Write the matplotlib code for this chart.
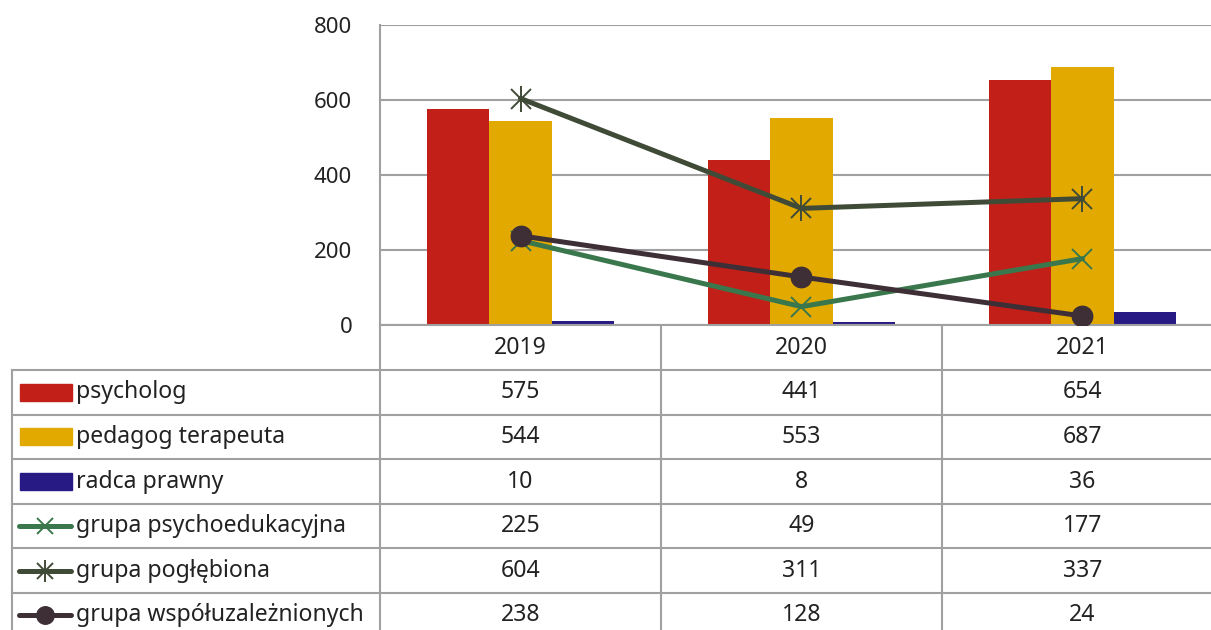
import matplotlib.pyplot as plt
from matplotlib.patches import Rectangle
import numpy as np

plt.rcParams['font.family'] = ['Noto Sans', 'DejaVu Sans']

years = ['2019', '2020', '2021']
psycholog = [575, 441, 654]
pedagog = [544, 553, 687]
radca = [10, 8, 36]
psychoedukacyjna = [225, 49, 177]
poglebiona = [604, 311, 337]
wspoluzaleznionych = [238, 128, 24]

bar_series = [('psycholog', psycholog, '#C21F19'),
              ('pedagog terapeuta', pedagog, '#E2AA00'),
              ('radca prawny', radca, '#271A84')]
line_series = [('grupa psychoedukacyjna', psychoedukacyjna, '#3A774C', 'x'),
               ('grupa pogłębiona', poglebiona, '#404B37', '*'),
               ('grupa współuzależnionych', wspoluzaleznionych, '#3E2F37', 'o')]

W, H = 1211, 630
fig = plt.figure(figsize=(W / 100, H / 100), dpi=100)
grid_c = '#A0A0A0'
txt_c = '#222222'
fs = 16
fs_tab = 16.6


def draw_marker(a, xs, ys, col, mk, ms=14):
    if mk == 'x':
        a.plot(xs, ys, ls='none', marker='x', color=col, ms=ms, mew=1.4, zorder=4)
    elif mk == '*':
        a.plot(xs, ys, ls='none', marker='x', color=col, ms=ms, mew=1.4, zorder=4)
        a.plot(xs, ys, ls='none', marker='|', color=col, ms=ms * 1.35, mew=1.4, zorder=4)
    else:
        a.plot(xs, ys, ls='none', marker='o', color=col, ms=ms * 1.05, zorder=4)


# chart part
ax = fig.add_axes([380 / W, (H - 325) / H, 843 / W, 300 / H])
x = np.arange(len(years))
bw = 0.221
for i, (name, vals, col) in enumerate(bar_series):
    ax.bar(x + (i - 1) * bw, vals, bw, color=col, zorder=2)

for name, vals, col, mk in line_series:
    ax.plot(x, vals, color=col, lw=3.6, zorder=3, solid_capstyle='round')
    draw_marker(ax, x, vals, col, mk)

ax.set_xlim(-0.5, 2.5)
ax.set_ylim(0, 800)
ax.set_yticks([0, 200, 400, 600, 800])
ax.tick_params(axis='y', length=0, labelsize=fs, pad=20, colors=txt_c)
ax.set_xticks([])
ax.grid(axis='y', color=grid_c, lw=1.5, zorder=0)
for s in ['top', 'right']:
    ax.spines[s].set_visible(False)
for s in ['left', 'bottom']:
    ax.spines[s].set_color(grid_c)
    ax.spines[s].set_linewidth(1.5)

# data table under the chart
tax = fig.add_axes([0, 0, 1, (H - 325) / H])
tax.set_xlim(0, W)
tax.set_ylim(H, 325)
tax.axis('off')

col_edges = [380, 661, 942, 1223]
row_top = 370
row_h = 44.6
n_rows = len(bar_series) + len(line_series)
lc = dict(color=grid_c, lw=1.5)

for xe in col_edges[:-1]:
    tax.plot([xe, xe], [325, H], **lc)
tax.plot([12, 12], [row_top, H], **lc)
for r in range(n_rows):
    yy = row_top + r * row_h
    tax.plot([12, W], [yy, yy], **lc)

centers = [(col_edges[i] + col_edges[i + 1]) / 2 for i in range(3)]
for c, yr in zip(centers, years):
    tax.text(c, 348, yr, ha='center', va='center', fontsize=fs_tab, color=txt_c)

rows = [(n, v, c, None) for n, v, c in bar_series] + list(line_series)
for r, (name, vals, col, mk) in enumerate(rows):
    yc = row_top + (r + 0.5) * row_h
    if mk is None:
        tax.add_patch(Rectangle((20, yc - 8.5), 52, 17, color=col))
    else:
        tax.plot([19, 71], [yc, yc], color=col, lw=3.6, solid_capstyle='round')
        draw_marker(tax, [45], [yc], col, mk, ms=12)
    tax.text(76, yc, name, ha='left', va='center', fontsize=fs_tab, color=txt_c)
    for c, v in zip(centers, vals):
        tax.text(c, yc, str(v), ha='center', va='center', fontsize=fs_tab, color=txt_c)

fig.savefig('out.png', dpi=100)
